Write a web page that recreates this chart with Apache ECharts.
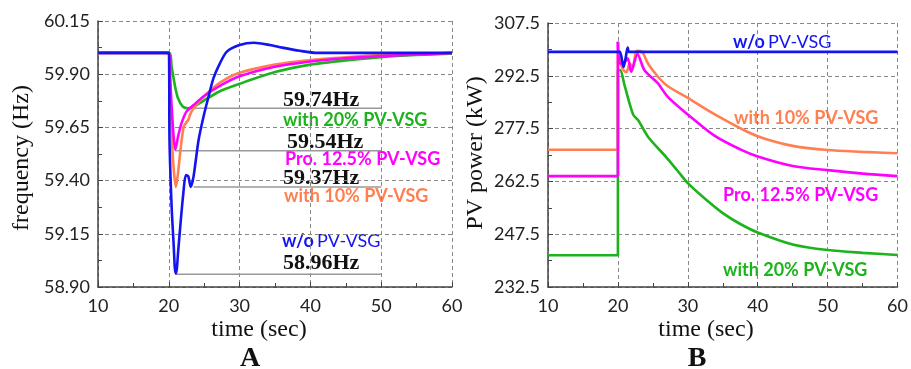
<!DOCTYPE html>
<html>
<head>
<meta charset="utf-8">
<script src="https://cdn.jsdelivr.net/npm/echarts@6/dist/echarts.min.js"></script>
<style>
  html, body { margin: 0; padding: 0; background: #fff; }
  #box { width: 911px; height: 369px; }
</style>
</head>
<body>
<div id="box"></div>
<script>
// 频率曲线 (A)
var tA_wo = [10, 20, 20.1, 20.4, 20.7, 20.85, 21.0, 21.15, 21.3, 21.7, 22.05, 22.4, 22.75, 23.1, 23.5, 24.2, 24.9, 25.5, 26.3, 27.2, 28.2, 30, 32, 34.3, 36, 38.5, 41, 50, 60];
var fA_wo = [60, 60, 59.59, 59.277, 59.09, 58.99, 58.964, 58.99, 59.058, 59.215, 59.34, 59.426, 59.42, 59.37, 59.42, 59.59, 59.70, 59.78, 59.88, 59.95, 60.006, 60.037, 60.048, 60.037, 60.025, 60.01, 60.0, 60.0, 60.0];

var tA_pro = [10, 20, 20.2, 20.4, 20.7, 20.9, 21.1, 21.3, 21.8, 22.5, 23.5, 24.9, 27.2, 30, 35, 40, 45, 50, 55, 60];
var fA_pro = [60, 60, 59.88, 59.747, 59.60, 59.545, 59.57, 59.606, 59.67, 59.724, 59.755, 59.795, 59.845, 59.89, 59.935, 59.96, 59.975, 59.985, 59.993, 60.0];

var tA_10 = [10, 20, 20.2, 20.4, 20.7, 21.0, 21.3, 21.7, 22.1, 22.4, 22.75, 23.0, 23.5, 24.9, 27.2, 30, 35, 40, 45, 50, 55, 60];
var fA_10 = [60, 60, 59.826, 59.62, 59.45, 59.37, 59.434, 59.56, 59.653, 59.67, 59.685, 59.71, 59.74, 59.794, 59.86, 59.907, 59.945, 59.967, 59.98, 59.99, 59.995, 60.0];

var tA_20 = [10, 20, 20.4, 20.9, 21.3, 22.0, 22.75, 23.5, 24.9, 27.2, 30, 35, 40, 45, 50, 55, 60];
var fA_20 = [60, 60, 59.935, 59.84, 59.787, 59.747, 59.74, 59.747, 59.775, 59.82, 59.855, 59.91, 59.945, 59.965, 59.98, 59.99, 59.997];

// 最低点标注线
var annoStart = [23.2, 20.9, 23.5, 20.9];
var annoValue = [59.74, 59.54, 59.37, 58.96];
var annoEnd = 50;

// PV 功率曲线 (B)，阶跃前后分开
var tB_wo = [10, 20, 20.3, 20.8, 21.1, 21.4, 21.6, 25, 60];
var pB_wo = [299.3, 299.3, 299.3, 295.0, 297.5, 300.5, 299.3, 299.3, 299.3];

var tB_10 = [10, 20, 20, 20.2, 20.6, 21.2, 21.7, 22.1, 22.7, 23.4, 24.3, 25.7, 27.1, 30, 33.8, 38.5, 40.9, 45, 50, 55, 60];
var pB_10 = [271.5, 271.5, 299.5, 298.5, 294.7, 293.5, 296, 295, 299.6, 299.4, 296.0, 292.3, 289.6, 286.2, 281.6, 276.6, 274.7, 272.6, 271.4, 270.9, 270.5];

var tB_pro = [10, 20, 20, 20.3, 21.0, 21.4, 21.9, 22.8, 23.8, 25.7, 27.1, 30, 33.8, 37.5, 40, 45, 50, 55, 60];
var pB_pro = [264, 264, 302.2, 296, 296.5, 297.5, 293.7, 298.6, 294.1, 290.4, 286.6, 281.5, 275.5, 271.6, 269.6, 266.9, 265.7, 264.7, 264.0];

var tB_20 = [10, 20, 20, 20.3, 21, 22.2, 22.9, 24.3, 26.9, 28.5, 30, 32.5, 35, 37.5, 40, 45, 50, 55, 60];
var pB_20 = [241.5, 241.5, 294, 294.1, 289.4, 281.4, 279.9, 275.2, 269.4, 265.6, 262.0, 257.5, 253.5, 250.4, 248.0, 244.6, 243.0, 242.2, 241.6];

var cBlue = '#1414f0', cPink = '#ff00ff', cOrange = '#ff7f50', cGreen = '#1db31d';

function zip(t, v) {
  return t.map(function(x, i) { return [x, v[i]]; });
}

var chart = echarts.init(document.getElementById('box'));

var gridLine = { show: true, lineStyle: { color: '#888', type: [4, 3], width: 1 } };
var tickLabel = { color: '#222', fontFamily: 'Lato', fontSize: 18 };

function xAx(idx) {
  return {
    gridIndex: idx, type: 'value', min: 10, max: 60, interval: 10,
    axisLine: { lineStyle: { color: '#444', width: 1.5 } },
    axisTick: { inside: true, length: 5, lineStyle: { color: '#444' } },
    minorTick: { show: true, splitNumber: 2, length: 4, lineStyle: { color: '#444' } },
    axisLabel: Object.assign({ margin: 10 }, tickLabel),
    splitLine: gridLine
  };
}
function yAx(idx, min, max, step, dec) {
  return {
    gridIndex: idx, type: 'value', min: min, max: max, interval: step,
    axisLine: { show: true, lineStyle: { color: '#444', width: 1.5 } },
    axisTick: { show: true, inside: true, length: 5, lineStyle: { color: '#444' } },
    minorTick: { show: true, splitNumber: 2, length: 4, lineStyle: { color: '#444' } },
    axisLabel: Object.assign({ margin: 8, formatter: function(v) { return v.toFixed(dec); } }, tickLabel),
    splitLine: gridLine
  };
}

function curve(xi, data, color, smooth) {
  return {
    type: 'line', xAxisIndex: xi, yAxisIndex: xi,
    data: data, showSymbol: false, symbol: 'none', smooth: smooth,
    lineStyle: { color: color, width: 2.6 }, z: 3, silent: true
  };
}

// B 图：阶跃段（直线）+ 阶跃后段（平滑）
function stepCurve(t, v, color) {
  var d = zip(t, v);
  var k = t.lastIndexOf(20);
  return [curve(1, d.slice(0, k + 1), color, false), curve(1, d.slice(k), color, 0.3)];
}

var series = [
  curve(0, zip(tA_20, fA_20), cGreen, 0.25),
  curve(0, zip(tA_10, fA_10), cOrange, 0.25),
  curve(0, zip(tA_pro, fA_pro), cPink, 0.25),
  curve(0, zip(tA_wo, fA_wo), cBlue, 0.25)
].concat(
  stepCurve(tB_20, pB_20, cGreen),
  stepCurve(tB_10, pB_10, cOrange),
  stepCurve(tB_pro, pB_pro, cPink),
  stepCurve(tB_wo, pB_wo, cBlue)
);

annoValue.forEach(function(v, i) {
  series.push({
    type: 'line', xAxisIndex: 0, yAxisIndex: 0, silent: true,
    data: [[annoStart[i], v], [annoEnd, v]], symbol: 'none',
    lineStyle: { color: '#999', width: 1.5 }, z: 2
  });
});

function txt(x, y, text, font, fill) {
  return { type: 'text', x: x, y: y, silent: true,
    style: { text: text, font: font, fill: fill, verticalAlign: 'middle', textVerticalAlign: 'middle' } };
}
function woText(x, y) {
  return { type: 'text', x: x, y: y, silent: true,
    style: { text: '{b|w/o} {n|PV-VSG}', verticalAlign: 'middle', textVerticalAlign: 'middle',
      rich: {
        b: { fontFamily: 'Lato', fontWeight: 'bold', fontSize: 18, fill: cBlue, color: cBlue },
        n: { fontFamily: 'Lato', fontSize: 18, fill: cBlue, color: cBlue }
      } } };
}

var valFont = 'bold 22px "Liberation Serif"';
var lblFont = 'bold 18px Lato';
var serif = '24px "Liberation Serif"';

function centered(x, y, text, font, rot) {
  return { type: 'text', x: x, y: y, rotation: rot || 0, silent: true,
    style: { text: text, font: font, fill: '#111', align: 'center', textAlign: 'center',
      verticalAlign: 'middle', textVerticalAlign: 'middle' } };
}

var graphic = [
  txt(283, 100, '59.74Hz', valFont, '#111'),
  txt(283, 120, 'with 20% PV-VSG', lblFont, cGreen),
  txt(287, 142, '59.54Hz', valFont, '#111'),
  txt(285, 159, 'Pro. 12.5% PV-VSG', lblFont, cPink),
  txt(283, 178, '59.37Hz', valFont, '#111'),
  txt(284, 196, 'with 10% PV-VSG', lblFont, cOrange),
  woText(282, 241),
  txt(283, 263, '58.96Hz', valFont, '#111'),

  woText(733, 42),
  txt(734, 118, 'with 10% PV-VSG', lblFont, cOrange),
  txt(723, 195, 'Pro. 12.5% PV-VSG', lblFont, cPink),
  txt(723, 270, 'with 20% PV-VSG', lblFont, cGreen),

  centered(259, 330, 'time (sec)', serif),
  centered(706, 330, 'time (sec)', serif),
  centered(22, 158, 'frequency (Hz)', serif, Math.PI / 2),
  centered(476, 153, 'PV power (kW)', serif, Math.PI / 2),
  centered(250, 359, 'A', 'bold 28px "Liberation Serif"'),
  centered(697, 359, 'B', 'bold 28px "Liberation Serif"')
];

var option = {
  animation: false,
  backgroundColor: '#fff',
  grid: [
    { left: 98, top: 21, width: 354, height: 266 },
    { left: 548, top: 23, width: 351, height: 264 }
  ],
  xAxis: [xAx(0), xAx(1)],
  yAxis: [yAx(0, 58.9, 60.15, 0.25, 2), yAx(1, 232.5, 307.5, 15, 1)],
  series: series,
  graphic: graphic
};

chart.setOption(option);
</script>
</body>
</html>
